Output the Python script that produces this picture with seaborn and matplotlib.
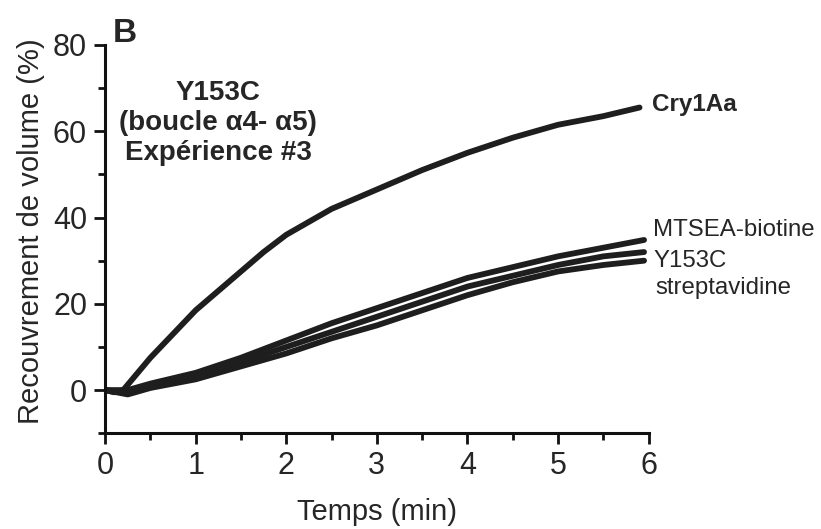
import pandas as pd
import seaborn as sns
import matplotlib.pyplot as plt

sns.set_style("ticks")
plt.rcParams['font.family'] = ['Liberation Sans', 'DejaVu Sans']

# Donnees (temps en min, recouvrement en %)
t_cry = [0, 0.1, 0.2, 0.3, 0.5, 0.75, 1.0, 1.25, 1.5, 1.75, 2.0, 2.5, 3.0, 3.5, 4.0, 4.5, 5.0, 5.5, 5.9]
v_cry = [0, -0.5, 0, 2.5, 7.5, 13, 18.5, 23, 27.5, 32, 36, 42, 46.5, 51, 55, 58.5, 61.5, 63.5, 65.5]

t_bas = [0, 0.25, 0.5, 1.0, 1.5, 2.0, 2.5, 3.0, 3.5, 4.0, 4.5, 5.0, 5.5, 5.95]
v_mtsea = [0, 0, 1.5, 4, 7.5, 11.5, 15.5, 19, 22.5, 26, 28.5, 31, 33, 34.8]
v_y153c = [0, -0.5, 1, 3.5, 6.5, 10, 13.5, 17, 20.5, 24, 26.5, 29, 31, 32]
v_strep = [0, -1, 0.5, 2.5, 5.5, 8.5, 12, 15, 18.5, 22, 25, 27.5, 29, 30]

x_ticks = [0, 1, 2, 3, 4, 5, 6]
y_ticks = [0, 20, 40, 60, 80]

fig = plt.figure(figsize=(8.21, 5.29), dpi=100)
ax = fig.add_axes([0.128, 0.181, 0.662, 0.734])

couleur = "#1e1e1e"
traces = [(t_cry, v_cry), (t_bas, v_mtsea), (t_bas, v_y153c), (t_bas, v_strep)]
for t, v in traces:
    df = pd.DataFrame({"t": t, "v": v})
    sns.lineplot(data=df, x="t", y="v", ax=ax, color=couleur, linewidth=4.2)

ax.set_xlim(0, 6)
ax.set_ylim(-10, 80)
ax.set_xticks(x_ticks)
ax.set_yticks(y_ticks)
ax.set_xticks([0.5, 1.5, 2.5, 3.5, 4.5, 5.5], minor=True)
ax.set_yticks([-10, 10, 30, 50, 70], minor=True)
ax.tick_params(which="major", length=8, width=2, labelsize=22, color="#111111", pad=5)
ax.tick_params(which="minor", length=5, width=2, color="#111111")
sns.despine(ax=ax)
for s in ["left", "bottom"]:
    ax.spines[s].set_linewidth(2.2)
    ax.spines[s].set_color("#111111")

ax.set_xlabel("Temps (min)", fontsize=21, labelpad=12)
ax.set_ylabel("Recouvrement de volume (%)", fontsize=21, labelpad=6)
ax.yaxis.label.set_y(0.52)

# Annotations
ax.text(1.25, 61.8, "Y153C\n(boucle α4- α5)\nExpérience #3", ha="center", va="center",
        fontsize=20, fontweight="bold", linespacing=1.2)
ax.text(6.04, 66.2, "Cry1Aa", ha="left", va="center", fontsize=17.5, fontweight="bold", clip_on=False)
ax.text(6.05, 37.0, "MTSEA-biotine", ha="left", va="center", fontsize=17.3, clip_on=False)
ax.text(6.05, 30.0, "Y153C", ha="left", va="center", fontsize=17.3, clip_on=False)
ax.text(6.08, 23.7, "streptavidine", ha="left", va="center", fontsize=17.3, clip_on=False)

fig.text(113 / 821, 1 - 42 / 529, "B", fontsize=24, fontweight="bold", va="baseline")

fig.savefig("out.png", dpi=100)
